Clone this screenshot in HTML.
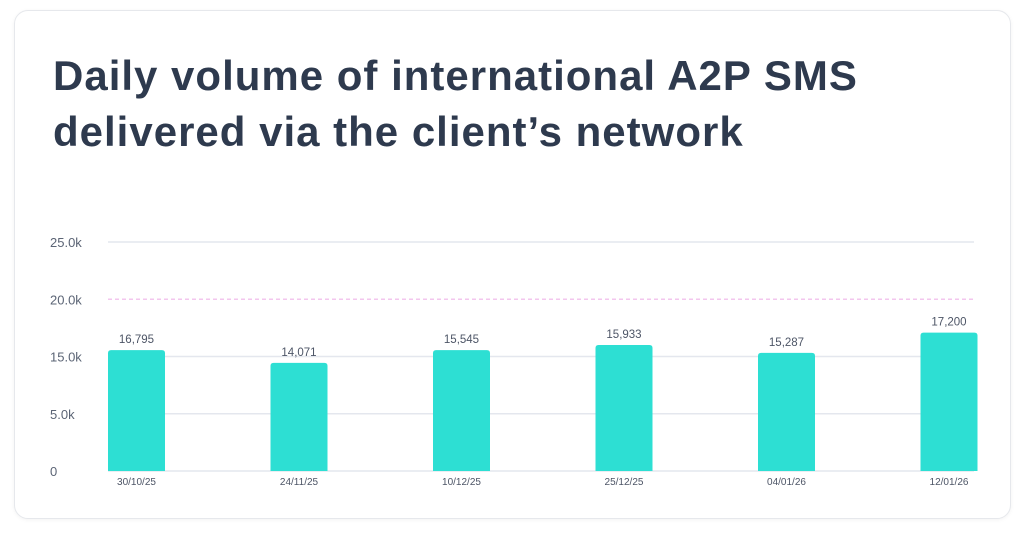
<!DOCTYPE html>
<html><head><meta charset="utf-8"><style>
body{margin:0;background:#fff;width:1024px;height:536px;overflow:hidden;font-family:"Liberation Sans",sans-serif}
.card{position:absolute;left:14px;top:10px;width:995px;height:507px;border:1px solid #e6e8ec;border-radius:14px;box-shadow:0 1px 4px rgba(0,0,0,0.05);background:#fff}
h1{position:absolute;left:38px;top:37px;margin:0;font-size:42px;line-height:56px;font-weight:bold;color:#2e3a4e;letter-spacing:1px;white-space:nowrap}
svg{position:absolute;left:0;top:0}
</style></head><body>
<div class="card">
<h1>Daily volume of international A2P SMS<br>delivered via the client’s network</h1>
</div>
<svg id="chart" width="1024" height="536"></svg>
<script>
const categories=["30/10/25","24/11/25","10/12/25","25/12/25","04/01/26","12/01/26"];
const values=[13200,11800,13200,13750,12900,15100];
const valueLabels=["16,795","14,071","15,545","15,933","15,287","17,200"];
const tickValues=[0,6250,12500,18750,25000];
const tickLabels=["0","5.0k","15.0k","20.0k","25.0k"];
const ns="http://www.w3.org/2000/svg",svg=document.getElementById('chart');
const y0=471,yTop=242,vMax=25000,x0=108,step=162.5,bw=57;
const y=v=>y0-(v/vMax)*(y0-yTop);
const x=i=>x0+i*step;
function mk(t,a){const e=document.createElementNS(ns,t);for(const k in a)e.setAttribute(k,a[k]);svg.appendChild(e);return e;}
tickValues.forEach((v,i)=>{
 const dash=tickLabels[i]==="20.0k";
 const l=mk('line',{x1:108,x2:974,y1:y(v),y2:y(v),stroke:dash?'#f3c6ee':'#e4e7ee','stroke-width':1.5,'stroke-dasharray':dash?'4 3':'none'});
 
 
 const t=mk('text',{x:50,y:y(v)+5,'font-size':13,fill:'#5b6475'});t.textContent=tickLabels[i];
 
 
});
categories.forEach((c,i)=>{
 const top=y(values[i]);
 const r=mk('path',{d:`M${x(i)},${y0} V${top+3} Q${x(i)},${top} ${x(i)+3},${top} H${x(i)+bw-3} Q${x(i)+bw},${top} ${x(i)+bw},${top+3} V${y0} Z`,fill:'#2ddfd3'});
 
 
 const t=mk('text',{x:x(i)+bw/2,y:top-7,'font-size':11.5,fill:'#4d5566','text-anchor':'middle'});t.textContent=valueLabels[i];
 
 
 const d=mk('text',{x:x(i)+bw/2,y:485,'font-size':10,fill:'#4d5566','text-anchor':'middle'});d.textContent=c;
 
 
});
</script>
</body></html>
